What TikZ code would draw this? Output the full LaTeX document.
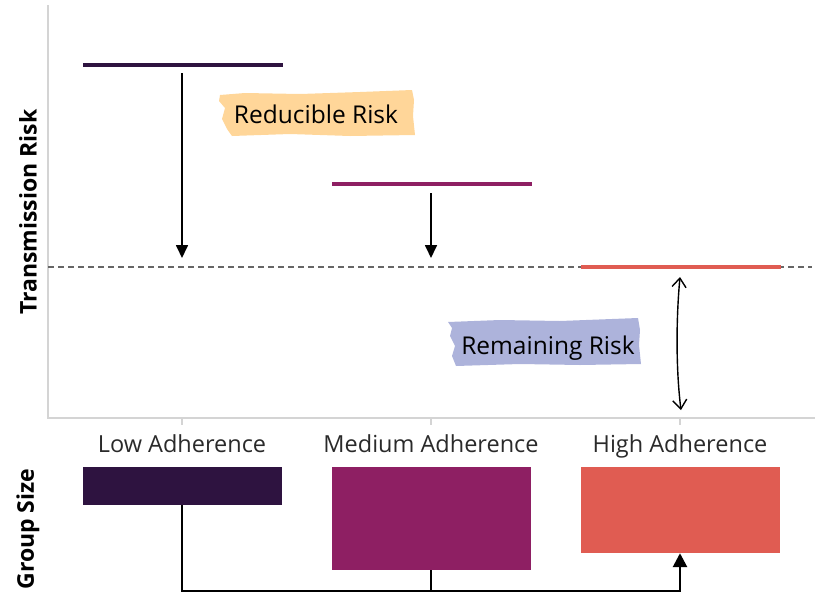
\documentclass[tikz,border=0pt]{standalone}
\usepackage{fontspec}
\setmainfont{Open Sans}
\usetikzlibrary{arrows.meta}
\definecolor{cLow}{HTML}{2E1340}
\definecolor{cMed}{HTML}{8E1F63}
\definecolor{cHigh}{HTML}{E05C52}
\definecolor{tagOrange}{HTML}{FFD699}
\definecolor{tagBlue}{HTML}{ADB3DB}
\definecolor{axisgray}{HTML}{D4D4D4}
\definecolor{dashgray}{HTML}{666666}
\definecolor{labelgray}{HTML}{2A2A2A}
\tikzset{
  riskline/.style={rectangle, inner sep=0pt, minimum width=200pt, minimum height=4.5pt, draw=none},
  bar/.style={rectangle, inner sep=0pt, minimum width=199pt, draw=none},
  downarrow/.style={draw=black, line width=1.7pt, -{Triangle[length=13pt,width=12pt]}},
  remarrow/.style={draw=black, line width=1.4pt, {Straight Barb[length=9pt,width=14pt]}-{Straight Barb[length=9pt,width=14pt]}},
  connector/.style={draw=black, line width=2.7pt, line join=miter},
  tagtext/.style={font=\fontsize{24.5}{28}\selectfont, text=black, inner sep=0pt, anchor=base},
  catlabel/.style={font=\fontsize{23.5}{28}\selectfont, text=labelgray, inner sep=0pt, anchor=base},
  axislabel/.style={font=\bfseries\fontsize{23}{28}\selectfont, text=black, inner sep=0pt, rotate=90},
}
\begin{document}
\begin{tikzpicture}[x=1pt,y=-1pt]
\useasboundingbox (0,0) rectangle (817,595);
% axes
\draw[axisgray, line width=1.2pt] (48,5) -- (48,418) -- (815,418);
\foreach \x in {182,431,680} \draw[axisgray, line width=1.2pt] (\x,418) -- (\x,425);
% dashed reference line
\draw[dashgray, line width=1.8pt, dash pattern=on 6pt off 4pt] (48,267) -- (812,267);
% risk levels
\node[riskline, fill=cLow] (lowline) at (183,65) {};
\node[riskline, fill=cMed] (medline) at (432,184) {};
\node[riskline, fill=cHigh] (highline) at (680.5,267) {};
\coordinate (lowstop) at (182,258);
\coordinate (medstop) at (431,258);
\coordinate (remtop) at (680,277);
\coordinate (rembot) at (681,410);
\draw[downarrow] (182,73) -- (lowstop);
\draw[downarrow] (431,193) -- (medstop);
\draw[remarrow] (remtop) .. controls (676,320) and (676,370) .. (rembot);
% tags
\fill[tagOrange] (220,95) -- (245,93) -- (300,94) -- (360,92) -- (412,90) -- (414,100) -- (413,116) -- (415,135) -- (350,136) -- (290,134) -- (232,136) -- (227,129) -- (222,119) -- (225,108) -- (219,101) -- cycle;
\node[tagtext] (reducible) at (316,123) {Reducible Risk};
\fill[tagBlue] (448,322) -- (500,320) -- (560,321) -- (638,318) -- (640,330) -- (639,345) -- (641,364) -- (580,365) -- (520,364) -- (456,366) -- (452,356) -- (455,346) -- (450,336) -- (452,328) -- cycle;
\node[tagtext] (remaining) at (548,354) {Remaining Risk};
% category labels
\node[catlabel] (lowlab) at (182,452) {Low Adherence};
\node[catlabel] (medlab) at (431,452) {Medium Adherence};
\node[catlabel] (highlab) at (680,452) {High Adherence};
% group size bars
\node[bar, fill=cLow, minimum height=38pt] (lowbar) at (182,486) {};
\node[bar, fill=cMed, minimum height=103pt] (medbar) at (431,518.5) {};
\node[bar, fill=cHigh, minimum height=86pt] (highbar) at (680,510) {};
\coordinate (jn) at (431,591);
\draw[connector] (lowbar.south) |- (jn);
\draw[connector] (medbar.south) -- (jn);
\draw[connector, -{Triangle[length=14pt,width=14pt]}] (jn) -| (highbar.south);
% axis labels
\node[axislabel] (ytrans) at (28,212) {Transmission Risk};
\node[axislabel] (ygroup) at (28,529) {Group Size};
\end{tikzpicture}
\end{document}
